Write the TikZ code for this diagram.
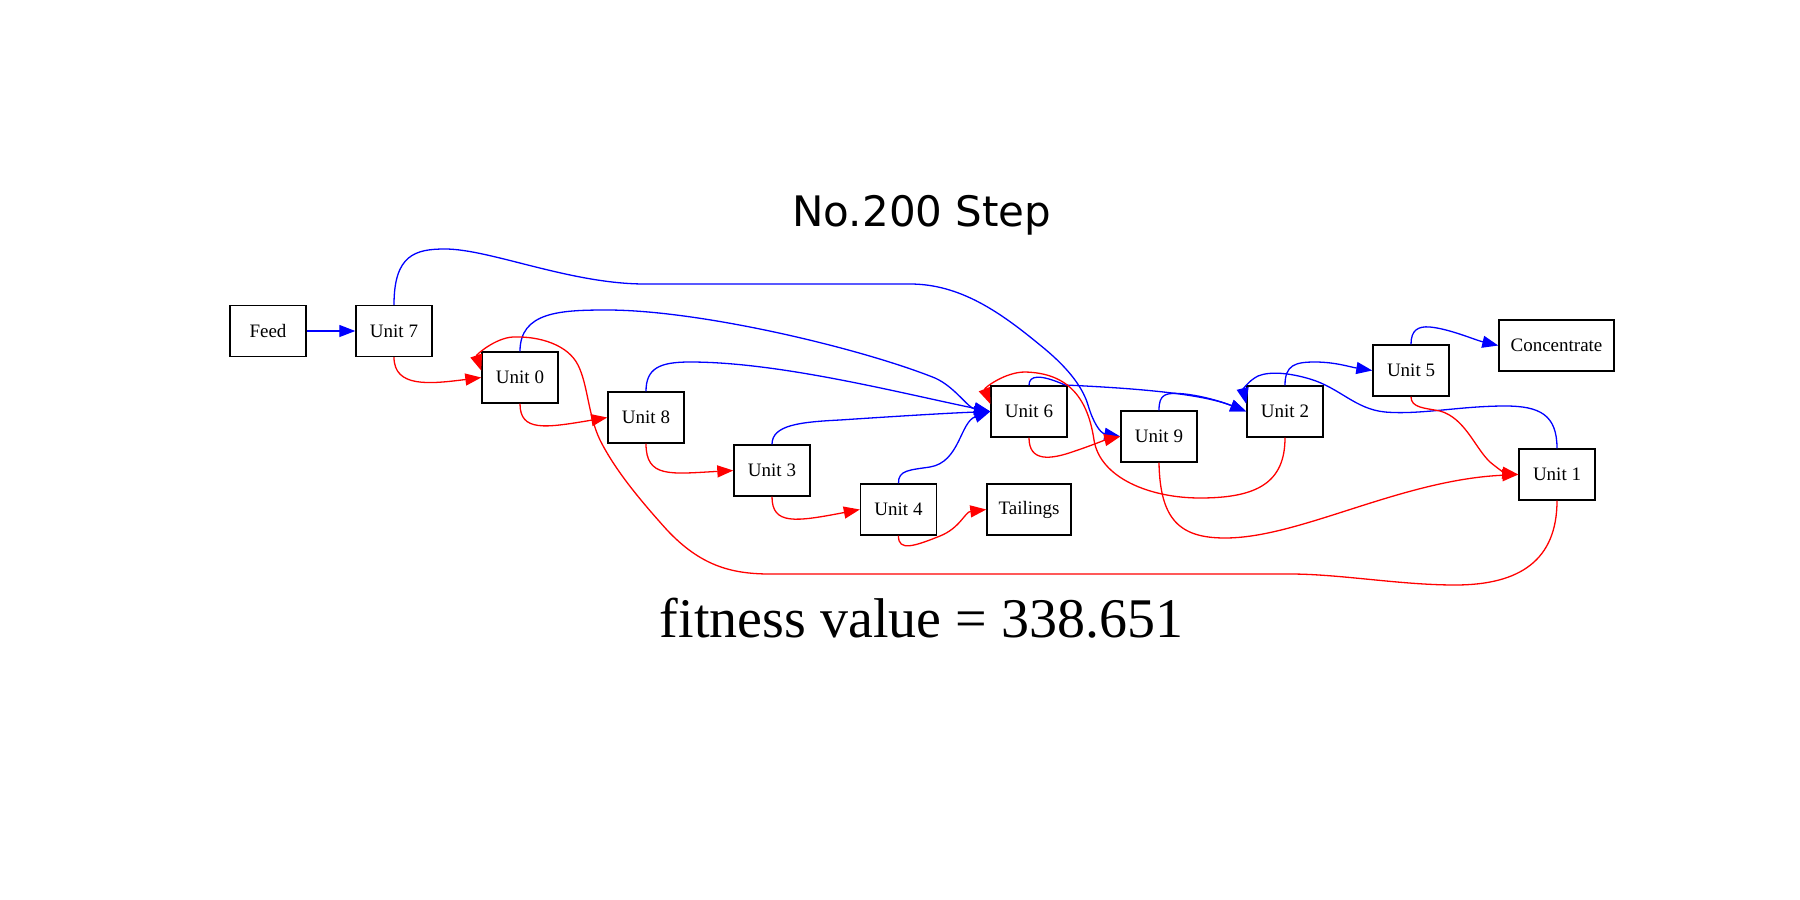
\documentclass[tikz,border=0pt]{standalone}
\usepackage{fontspec}
\setmainfont{Liberation Serif}
\newfontfamily\titlefont{DejaVu Sans}
\usetikzlibrary{arrows.meta}
\definecolor{eblue}{RGB}{0,0,255}
\definecolor{ered}{RGB}{255,0,0}
\begin{document}
\begin{tikzpicture}[x=1pt,y=-1pt,
  box/.style={draw=black, line width=1.4pt, minimum width=76pt, minimum height=51pt, inner sep=0pt, font=\fontsize{19}{19}\selectfont},
  be/.style={draw=eblue, line width=1.3pt, -{Triangle[length=16pt,width=12pt]}},
  re/.style={draw=ered, line width=1.3pt, -{Triangle[length=16pt,width=12pt]}}]
\useasboundingbox (0,0) rectangle (1800,900);
\fill[white] (0,0) rectangle (1800,900);

\node[font=\titlefont\fontsize{42}{42}\selectfont, anchor=base] (title) at (922,226) {No.200 Step};
\node[font=\fontsize{56}{56}\selectfont, anchor=base] (fit) at (921.5,637) {fitness value = 338.651};

\node[box] (feed) at (268,331) {Feed};
\node[box] (u7) at (394,331) {Unit 7};
\node[box] (u0) at (520,377.5) {Unit 0};
\node[box] (u8) at (646,417.5) {Unit 8};
\node[box] (u3) at (772,470.5) {Unit 3};
\node[box] (u4) at (898.5,509.5) {Unit 4};
\node[box, minimum width=84pt] (tail) at (1029,509.5) {Tailings};
\node[box] (u6) at (1029,411.5) {Unit 6};
\node[box] (u9) at (1159,436.5) {Unit 9};
\node[box] (u2) at (1285,411.5) {Unit 2};
\node[box] (u5) at (1411,370.5) {Unit 5};
\node[box, minimum width=115pt] (conc) at (1556.5,345.5) {Concentrate};
\node[box] (u1) at (1557,474.5) {Unit 1};

% Feed -> Unit 7
\draw[be] (feed.east) -- (u7.west);
% Unit 7 -> Unit 0
\draw[re] (u7.south) .. controls (394,388) and (430,384) .. (u0.west);
% Unit 7 -> Unit 9
\draw[be] (u7.north) .. controls (394,255) and (415,249) .. (445,249)
  .. controls (490,249) and (570,284) .. (645,284) -- (910,284)
  .. controls (960,284) and (1000,312) .. (1040,345)
  .. controls (1065,365) and (1082,385) .. (1088,405)
  .. controls (1093,422) and (1100,433) .. (u9.west);
% Unit 0 -> Unit 8
\draw[re] (u0.south) .. controls (520,432) and (545,428) .. (u8.west);
% Unit 0 -> Unit 6
\draw[be] (u0.north) .. controls (520,312) and (560,310) .. (607,310)
  .. controls (700,310) and (860,348) .. (935,378)
  .. controls (955,387) and (968,408) .. (u6.west);
% Unit 1 -> Unit 0
\draw[re] (u1.south) .. controls (1557,560) and (1520,585) .. (1455,585)
  .. controls (1400,585) and (1340,574) .. (1290,574) -- (770,574)
  .. controls (730,574) and (700,565) .. (667,530)
  .. controls (640,500) and (615,470) .. (600,440)
  .. controls (588,415) and (588,385) .. (578,365)
  .. controls (568,345) and (540,336) .. (513,337)
  .. controls (495,338) and (476,355) .. (u0.170);
% Unit 8 -> Unit 3
\draw[re] (u8.south) .. controls (646,478) and (670,474) .. (u3.west);
% Unit 8 -> Unit 6
\draw[be] (u8.north) .. controls (646,368) and (660,362) .. (690,362)
  .. controls (780,362) and (900,393) .. (u6.west);
% Unit 3 -> Unit 4
\draw[re] (u3.south) .. controls (772,525) and (795,522) .. (u4.west);
% Unit 3 -> Unit 6
\draw[be] (u3.north) .. controls (772,425) and (800,422) .. (840,420)
  .. controls (900,416) and (950,413) .. (u6.west);
% Unit 4 -> Tailings
\draw[re] (u4.south) .. controls (898,552) and (915,546) .. (940,536)
  .. controls (960,528) and (965,512) .. (tail.west);
% Unit 4 -> Unit 6
\draw[be] (u4.north) .. controls (898,470) and (910,470) .. (930,467)
  .. controls (960,462) and (960,422) .. (u6.west);
% Unit 6 -> Unit 9
\draw[re] (u6.south) .. controls (1029,462) and (1050,460) .. (1075,451)
  .. controls (1090,446) and (1105,440) .. (u9.west);
% Unit 6 -> Unit 2
\draw[be] (u6.north) .. controls (1029,375) and (1040,374) .. (1065,385)
  .. controls (1130,388) and (1200,393) .. (u2.west);
% Unit 2 -> Unit 6
\draw[re] (u2.south) .. controls (1285,482) and (1258,498) .. (1200,498)
  .. controls (1150,498) and (1100,478) .. (1094,440)
  .. controls (1088,400) and (1070,373) .. (1025,372)
  .. controls (1005,372) and (984,388) .. (u6.169);
% Unit 9 -> Unit 2
\draw[be] (u9.north) .. controls (1159,394) and (1165,392) .. (1185,394)
  .. controls (1210,397) and (1230,405) .. (u2.west);
% Unit 9 -> Unit 1
\draw[re] (u9.south) .. controls (1160,520) and (1180,538) .. (1225,538)
  .. controls (1300,538) and (1400,480) .. (u1.west);
% Unit 2 -> Unit 5
\draw[be] (u2.north) .. controls (1285,365) and (1295,362) .. (1315,362)
  .. controls (1335,362) and (1350,367) .. (u5.west);
% Unit 1 -> Unit 2
\draw[be] (u1.north) .. controls (1557,415) and (1540,406) .. (1505,406)
  .. controls (1460,406) and (1420,415) .. (1385,412)
  .. controls (1355,409) and (1340,388) .. (1310,379)
  .. controls (1290,373) and (1270,371) .. (1258,376)
  .. controls (1248,381) and (1243,390) .. (u2.169);
% Unit 5 -> Concentrate
\draw[be] (u5.north) .. controls (1411,330) and (1418,326) .. (1430,327)
  .. controls (1450,329) and (1475,340) .. (conc.west);
% Unit 5 -> Unit 1
\draw[re] (u5.south) .. controls (1411,408) and (1425,408) .. (1440,411)
  .. controls (1465,418) and (1475,448) .. (1490,462)
  .. controls (1497,468) and (1505,473) .. (u1.west);
\end{tikzpicture}
\end{document}
